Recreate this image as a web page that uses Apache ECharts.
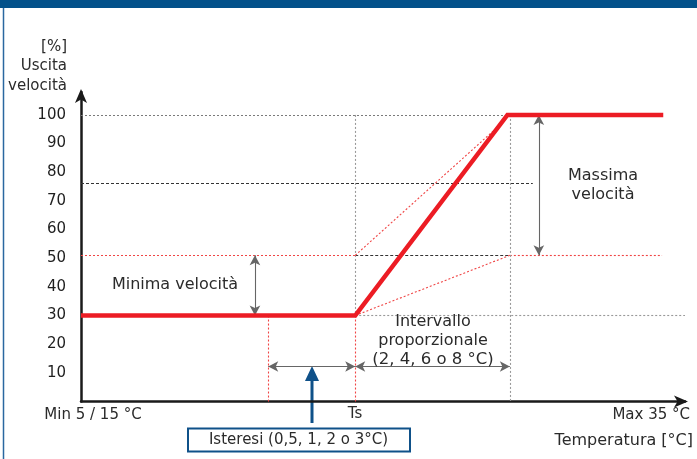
<!DOCTYPE html>
<html>
<head>
<meta charset="utf-8">
<script src="https://cdn.jsdelivr.net/npm/echarts@6/dist/echarts.min.js"></script>
<style>
  html, body { margin: 0; padding: 0; background: #fff; }
  #chart { width: 697px; height: 459px; }
</style>
</head>
<body>
<div id="chart"></div>
<script>
// valori (asse x in unita' relative 0..100)
var yTicks = [10, 20, 30, 40, 50, 60, 70, 80, 90, 100];
var curveX = [0, 45.4, 70.6, 96.4];
var curveY = [30, 30, 100, 100];

var tsX = 45.4;        // Ts
var hystX = 31;        // inizio isteresi
var propX = 71;        // fine intervallo proporzionale
var minV = 30, midV = 51, maxV = 100, blackV = 76;
var arrowY = 12.2;     // quota frecce orizzontali

var TXT = '#2b2b2b';
var FONT = 'DejaVu Sans';
var RED = '#ec1c24';

function seg(x1, y1, x2, y2, color, dash) {
    return [
        { coord: [x1, y1], lineStyle: { color: color, type: dash, width: 1.1 } },
        { coord: [x2, y2] }
    ];
}

var dotGray = [2, 2], dashBlack = [3, 2], dotRed = [2, 2];

var refLines = [
    seg(0, maxV, curveX[2], maxV, '#7a7a7a', dotGray),
    seg(0, blackV, 74.8, blackV, '#333', dashBlack),
    seg(0, midV, tsX, midV, '#f04545', dotRed),
    seg(tsX, midV, propX, midV, '#333', dashBlack),
    seg(propX, midV, 96.2, midV, '#f04545', dotRed),
    seg(tsX, minV, 100, minV, '#999', dotGray),
    seg(tsX, maxV, tsX, minV, '#999', dotGray),
    seg(tsX, minV, tsX, 0, '#f04545', dotRed),
    seg(hystX, minV, hystX, 0, '#f04545', dotRed),
    seg(propX, maxV, propX, 0, '#999', dotGray),
    seg(tsX, midV, 68.2, 94.3, '#f04545', dotRed),
    seg(tsX, minV, propX, midV, '#f04545', dotRed)
];

var arrowLines = [
    seg(28.8, midV, 28.8, minV, '#666', 'solid'),
    seg(75.8, maxV, 75.8, midV, '#666', 'solid'),
    seg(hystX, arrowY, tsX, arrowY, '#666', 'solid'),
    seg(tsX, arrowY, propX, arrowY, '#666', 'solid')
];

var myChart = echarts.init(document.getElementById('chart'));

function txt(x, y, s, align, size) {
    return {
        type: 'text', x: x, y: y, z: 10,
        style: {
            text: s, fill: TXT, font: (size || 15) + 'px "' + FONT + '"',
            align: align || 'center', verticalAlign: 'middle'
        }
    };
}

var option = {
    animation: false,
    grid: { left: 81, right: 12, top: 92, bottom: 57.5 },
    xAxis: {
        type: 'value', min: 0, max: 100,
        axisLine: {
            lineStyle: { color: '#1a1a1a', width: 2.5 },
            symbol: ['none', 'arrow'], symbolSize: [9, 14], symbolOffset: [0, 3]
        },
        axisTick: { show: false },
        axisLabel: { show: false },
        splitLine: { show: false }
    },
    yAxis: {
        type: 'value', min: 0, max: 108, interval: 10,
        axisLine: {
            show: true,
            lineStyle: { color: '#1a1a1a', width: 2.5 },
            symbol: ['none', 'arrow'], symbolSize: [9, 14], symbolOffset: [0, 3]
        },
        axisTick: { show: false },
        axisLabel: {
            margin: 15, color: '#1f1f1f', fontSize: 15, fontFamily: FONT,
            formatter: function (v) { return yTicks.indexOf(v) >= 0 ? String(v) : ''; }
        },
        splitLine: { show: false }
    },
    series: [
        {
            type: 'line', z: 2, symbol: 'none', silent: true,
            data: [[0, 0]], lineStyle: { width: 0 },
            markLine: {
                silent: true, symbol: 'none', label: { show: false },
                data: refLines
            }
        },
        {
            type: 'line', z: 3, symbol: 'none', silent: true,
            data: [[0, 0]], lineStyle: { width: 0 },
            markLine: {
                silent: true, symbol: ['arrow', 'arrow'], symbolSize: [8, 10],
                label: { show: false },
                data: arrowLines
            }
        },
        {
            type: 'line', z: 5, symbol: 'none', silent: true,
            data: curveX.map(function (x, i) { return [x, curveY[i]]; }),
            lineStyle: { color: RED, width: 4.5, join: 'miter' }
        }
    ],
    graphic: [
        { type: 'rect', shape: { x: 0, y: 0, width: 697, height: 8 }, style: { fill: '#03518a' } },
        { type: 'line', shape: { x1: 3.5, y1: 8, x2: 3.5, y2: 459 }, style: { stroke: '#2a67a0', lineWidth: 1.5 } },
        txt(67, 47, '[%]', 'right'),
        txt(67, 66, 'Uscita', 'right'),
        txt(67, 86, 'velocità', 'right'),
        txt(175, 285, 'Minima velocità', 'center', 16),
        txt(603, 176, 'Massima', 'center', 16),
        txt(603, 195, 'velocità', 'center', 16),
        txt(433, 322, 'Intervallo', 'center', 16),
        txt(433, 341, 'proporzionale', 'center', 16),
        txt(433, 360, '(2, 4, 6 o 8 °C)', 'center', 16.5),
        txt(355, 414, 'Ts'),
        txt(93, 415, 'Min 5 / 15 °C'),
        txt(690, 415, 'Max 35 °C', 'right'),
        txt(693, 441, 'Temperatura [°C]', 'right', 16),
        { type: 'line', shape: { x1: 312, y1: 423, x2: 312, y2: 378 }, style: { stroke: '#0f5189', lineWidth: 3 } },
        { type: 'polygon', shape: { points: [[312, 366], [305, 381], [319, 381]] }, style: { fill: '#0f5189' } },
        { type: 'rect', shape: { x: 188, y: 428.5, width: 222, height: 23 }, style: { fill: '#fff', stroke: '#0f5189', lineWidth: 2 } },
        txt(298.5, 440.5, 'Isteresi (0,5, 1, 2 o 3°C)')
    ]
};

myChart.setOption(option, true);
</script>
</body>
</html>
